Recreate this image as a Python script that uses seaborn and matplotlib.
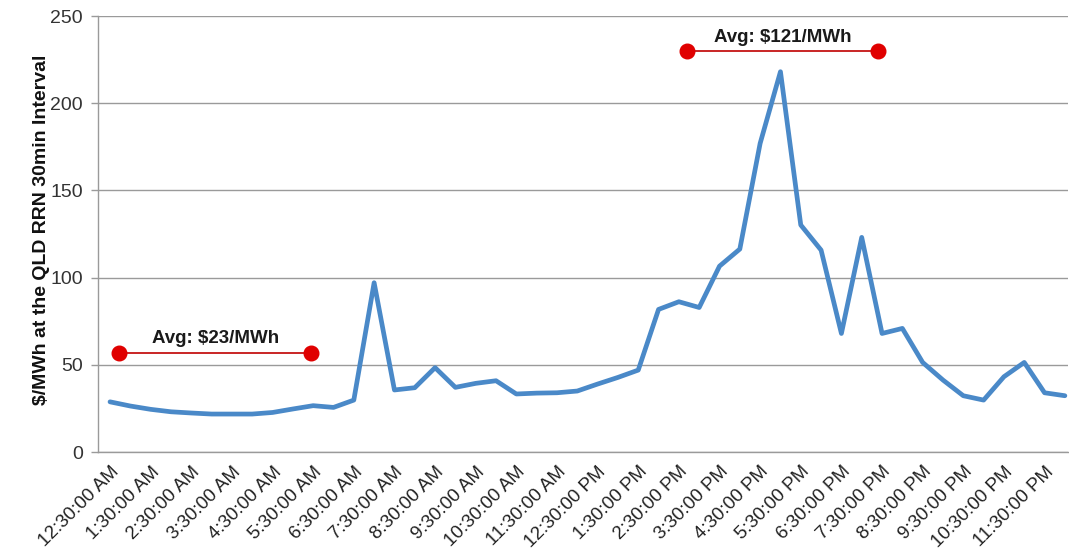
import pandas as pd
import numpy as np
import matplotlib
matplotlib.use("Agg")
import matplotlib.pyplot as plt
from matplotlib.ticker import FixedLocator, NullFormatter
import seaborn as sns

# half-hourly interval labels (12:30 AM .. 12:00 AM)
intervals = [
    "12:30:00 AM", "1:00:00 AM", "1:30:00 AM", "2:00:00 AM", "2:30:00 AM", "3:00:00 AM",
    "3:30:00 AM", "4:00:00 AM", "4:30:00 AM", "5:00:00 AM", "5:30:00 AM", "6:00:00 AM",
    "6:30:00 AM", "7:00:00 AM", "7:30:00 AM", "8:00:00 AM", "8:30:00 AM", "9:00:00 AM",
    "9:30:00 AM", "10:00:00 AM", "10:30:00 AM", "11:00:00 AM", "11:30:00 AM", "12:00:00 PM",
    "12:30:00 PM", "1:00:00 PM", "1:30:00 PM", "2:00:00 PM", "2:30:00 PM", "3:00:00 PM",
    "3:30:00 PM", "4:00:00 PM", "4:30:00 PM", "5:00:00 PM", "5:30:00 PM", "6:00:00 PM",
    "6:30:00 PM", "7:00:00 PM", "7:30:00 PM", "8:00:00 PM", "8:30:00 PM", "9:00:00 PM",
    "9:30:00 PM", "10:00:00 PM", "10:30:00 PM", "11:00:00 PM", "11:30:00 PM", "12:00:00 AM",
]
price = [
    28.8, 26.4, 24.5, 23.1, 22.4, 21.8, 21.8, 21.8, 22.7, 24.7,
    26.6, 25.6, 29.8, 97.1, 35.6, 36.9, 48.4, 37.1, 39.4, 40.9,
    33.3, 33.8, 34.0, 35.0, 39.0, 42.8, 47.0, 81.8, 86.2, 82.9,
    106.6, 116.4, 177.0, 218.1, 130.2, 115.8, 68.0, 123.1, 68.0, 70.9,
    51.4, 41.3, 32.3, 29.8, 43.2, 51.4, 34.0, 32.3,
]

# average markers (drawn as connectors over the series)
avg_labels = ["Avg: $23/MWh", "Avg: $121/MWh"]
avg_start = [0.45, 28.4]
avg_end = [9.9, 37.8]
avg_level = [57, 230]

df = pd.DataFrame({"slot": np.arange(len(price)), "interval": intervals, "price": price})

sns.set_style("white")
plt.rcParams['font.family'] = ['Liberation Sans', 'DejaVu Sans']

fig = plt.figure(figsize=(10.69, 5.54), dpi=100)
ax = fig.add_axes([0.0917, 0.184, 0.9073, 0.787])

sns.lineplot(data=df, x="slot", y="price", color="#4A89C8", linewidth=3.4, ax=ax)

for lab, x0, x1, lvl in zip(avg_labels, avg_start, avg_end, avg_level):
    ax.plot([x0, x1], [lvl, lvl], color="#C00000", linewidth=1.2, zorder=4)
    ax.plot([x0, x1], [lvl, lvl], linestyle="none", marker="o", markersize=10.5,
            color="#E00000", zorder=5)
    ax.text((x0 + x1) / 2, lvl + 3, lab, ha="center", va="bottom",
            fontsize=13.5, fontweight="bold", color="#1a1a1a")

ax.set_xlim(-0.59, 47.15)
ax.set_ylim(0, 250)
ax.set_yticks([0, 50, 100, 150, 200, 250])
ax.yaxis.grid(True, color="#9a9a9a", linewidth=1)
ax.xaxis.grid(False)

# labels every hour, tick marks at category boundaries
ax.set_xticks(df["slot"][::2])
ax.set_xticklabels(df["interval"][::2], rotation=45, ha="right", rotation_mode="anchor")
ax.xaxis.set_minor_locator(FixedLocator(np.arange(-0.5, len(price) - 0.5, 1)))
ax.xaxis.set_minor_formatter(NullFormatter())
ax.tick_params(axis="x", which="major", length=0, pad=8, labelsize=13.5, labelcolor="#222222")
ax.tick_params(axis="x", which="minor", length=5, width=1, color="#9a9a9a", direction="out")
ax.tick_params(axis="y", length=5, width=1, color="#9a9a9a", labelsize=14,
               labelcolor="#333333", pad=6, left=True)

for side in ["top", "right"]:
    ax.spines[side].set_visible(False)
for side in ["left", "bottom"]:
    ax.spines[side].set_color("#9a9a9a")
    ax.spines[side].set_linewidth(1)

ax.set_xlabel("")
ax.set_ylabel("$/MWh at the QLD RRN 30min Interval", fontsize=14,
              fontweight="bold", color="#111111")
ax.yaxis.set_label_coords(-0.05, 0.51)

fig.savefig("out.png", dpi=100)
plt.close(fig)
